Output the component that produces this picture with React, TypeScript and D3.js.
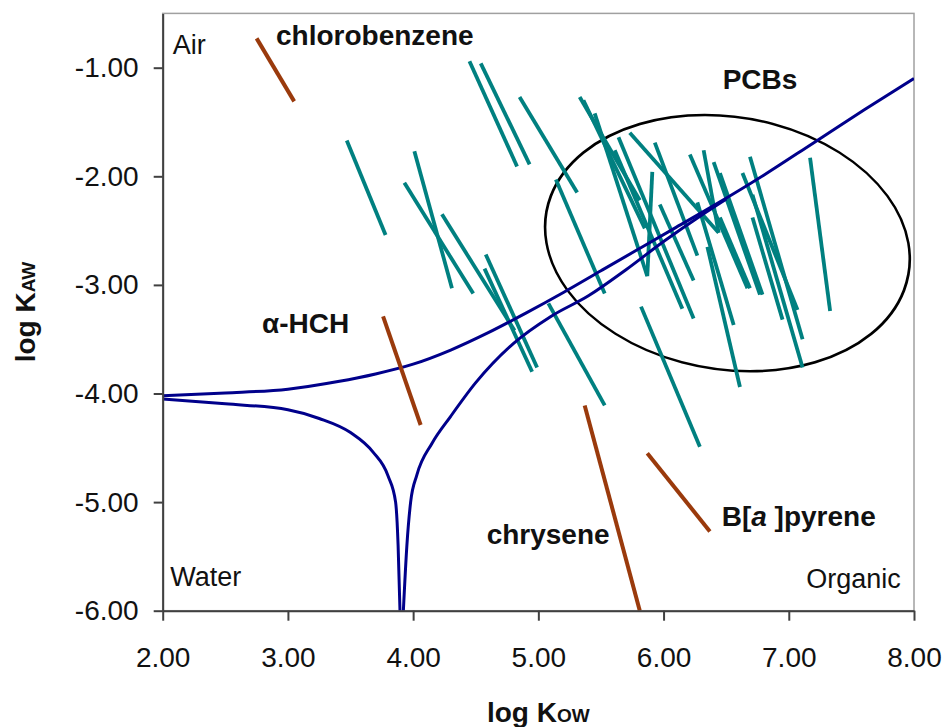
import React, { useEffect, useRef } from 'react';
import * as d3 from 'd3';

const kowTicks = [2, 3, 4, 5, 6, 7, 8];
const kawTicks = [-1, -2, -3, -4, -5, -6];

// boundary curve, upper branch
const upperKow = [2.0, 2.5, 3.0, 3.4, 3.7, 4.0, 4.3, 4.6, 4.9, 5.2, 5.5, 5.8, 6.1, 6.4, 6.8, 7.2, 7.6, 8.0];
const upperKaw = [-4.02, -3.995, -3.96, -3.89, -3.82, -3.73, -3.6, -3.44, -3.26, -3.07, -2.87, -2.67, -2.47, -2.27, -1.99, -1.69, -1.39, -1.1];

// boundary curve, lower branch (left and right of the cusp)
const lowerLeftKow = [2.0, 2.5, 3.0, 3.25, 3.5, 3.68, 3.8, 3.86, 3.88, 3.895];
const lowerLeftKaw = [-4.05, -4.095, -4.15, -4.23, -4.36, -4.54, -4.76, -5.0, -5.4, -6.0];
const lowerRightKow = [3.922, 3.95, 3.98, 4.03, 4.15, 4.3, 4.5, 4.8, 5.1, 5.4, 5.7, 6.0, 6.3, 6.5];
const lowerRightKaw = [-6.0, -5.4, -5.0, -4.75, -4.46, -4.21, -3.9, -3.54, -3.29, -3.1, -2.86, -2.6, -2.36, -2.21];

// PCB congeners: [logKow start, logKaw start, logKow end, logKaw end]
const pcbSegments: [number, number, number, number][] = [
  [3.47, -1.67, 3.78, -2.54],
  [4.01, -1.77, 4.31, -3.03],
  [3.93, -2.06, 4.48, -3.08],
  [4.23, -2.35, 4.81, -3.42],
  [4.58, -2.72, 4.99, -3.76],
  [4.57, -2.85, 4.95, -3.8],
  [5.08, -3.17, 5.53, -4.11],
  [4.45, -0.94, 4.83, -1.91],
  [4.54, -0.96, 4.93, -1.89],
  [4.85, -1.27, 5.31, -2.15],
  [5.14, -2.03, 5.53, -3.08],
  [5.82, -3.2, 6.29, -4.49],
  [5.36, -1.3, 5.85, -2.48],
  [5.45, -1.42, 5.87, -2.92],
  [5.61, -1.76, 6.15, -3.22],
  [5.64, -1.64, 6.24, -3.31],
  [5.73, -1.6, 6.44, -2.52],
  [5.93, -1.69, 6.27, -2.73],
  [5.91, -1.96, 5.87, -2.92],
  [6.21, -1.8, 6.67, -3.03],
  [6.32, -1.76, 6.44, -2.52],
  [6.4, -1.87, 6.77, -3.09],
  [6.69, -1.82, 7.11, -3.5],
  [6.63, -1.97, 7.07, -3.23],
  [6.71, -2.17, 7.11, -3.76],
  [6.71, -2.38, 6.95, -3.32],
  [7.17, -1.83, 7.33, -3.24],
  [6.27, -2.24, 6.56, -3.37],
  [6.35, -2.65, 6.61, -3.94],
  [6.45, -1.97, 6.79, -3.09],
  [6.45, -2.38, 6.69, -3.03],
  [5.97, -2.26, 6.24, -2.96],
  [5.33, -1.27, 5.81, -2.22],
];

// other compounds
const otherNames = ['chlorobenzene', 'α-HCH', 'chrysene', 'B[a]pyrene'];
const otherSegments: [number, number, number, number][] = [
  [2.75, -0.73, 3.05, -1.31],
  [3.76, -3.29, 4.06, -4.29],
  [5.37, -4.11, 5.81, -6.0],
  [5.87, -4.55, 6.37, -5.27],
];

const pcbEllipse = { kow: 6.51, kaw: -2.615, dKow: 1.445, dKaw: 1.18 };

const FONT = 'Liberation Sans, Arial, sans-serif';

export default function App() {
  const svgRef = useRef<SVGSVGElement>(null);

  useEffect(() => {
    if (!svgRef.current) return;
    const svg = d3.select(svgRef.current);
    svg.selectAll('*').remove();

    const width = 944;
    const height = 727;
    const margin = { top: 13.4, right: 30, bottom: 116.3, left: 162.7 };

    const x = d3.scaleLinear().domain([2, 8]).range([margin.left, width - margin.right]);
    const y = d3.scaleLinear().domain([-6, -0.5]).range([height - margin.bottom, margin.top]);

    svg.append('defs').append('clipPath').attr('id', 'plot-clip')
      .append('rect')
      .attr('x', x(2)).attr('y', y(-0.5))
      .attr('width', x(8) - x(2)).attr('height', y(-6) - y(-0.5));

    // frame
    svg.append('rect')
      .attr('x', x(2)).attr('y', y(-0.5))
      .attr('width', x(8) - x(2)).attr('height', y(-6) - y(-0.5))
      .attr('fill', 'none').attr('stroke', '#a0a0a0').attr('stroke-width', 1.5);

    const plot = svg.append('g').attr('clip-path', 'url(#plot-clip)');

    // ellipse round the PCBs
    const ex = x(pcbEllipse.kow);
    const ey = y(pcbEllipse.kaw);
    plot.append('ellipse')
      .attr('transform', `translate(${ex},${ey}) skewX(10)`)
      .attr('rx', x(pcbEllipse.kow + pcbEllipse.dKow) - ex)
      .attr('ry', y(pcbEllipse.kaw - pcbEllipse.dKaw) - ey)
      .attr('fill', 'none').attr('stroke', '#000').attr('stroke-width', 2.6);

    // PCB segments
    plot.selectAll('.pcb')
      .data(pcbSegments)
      .enter()
      .append('line')
      .attr('class', 'pcb')
      .attr('x1', d => x(d[0])).attr('y1', d => y(d[1]))
      .attr('x2', d => x(d[2])).attr('y2', d => y(d[3]))
      .attr('stroke', '#008080').attr('stroke-width', 3.8);

    // boundary curves
    const line = d3.line<[number, number]>()
      .x(d => x(d[0])).y(d => y(d[1]))
      .curve(d3.curveMonotoneX);
    const curves = [
      d3.zip(upperKow, upperKaw),
      d3.zip(lowerLeftKow, lowerLeftKaw),
      d3.zip(lowerRightKow, lowerRightKaw),
    ] as [number, number][][];
    plot.selectAll('.curve')
      .data(curves)
      .enter()
      .append('path')
      .attr('class', 'curve')
      .attr('d', d => line(d))
      .attr('fill', 'none').attr('stroke', '#00008b').attr('stroke-width', 3);

    // other compounds
    plot.selectAll('.other')
      .data(otherSegments)
      .enter()
      .append('line')
      .attr('class', 'other')
      .attr('x1', d => x(d[0])).attr('y1', d => y(d[1]))
      .attr('x2', d => x(d[2])).attr('y2', d => y(d[3]))
      .attr('stroke', '#9a3a0c').attr('stroke-width', 4);

    // axes
    const xAxis = d3.axisBottom(x)
      .tickValues(kowTicks)
      .tickFormat(d => (+d).toFixed(2))
      .tickSize(10).tickSizeOuter(0).tickPadding(26);
    const yAxis = d3.axisLeft(y)
      .tickValues(kawTicks)
      .tickFormat(d => (+d).toFixed(2))
      .tickSize(9).tickSizeOuter(0).tickPadding(15);

    const gx = svg.append('g')
      .attr('transform', `translate(0,${y(-6)})`)
      .call(xAxis);
    const gy = svg.append('g')
      .attr('transform', `translate(${x(2)},0)`)
      .call(yAxis);

    [gx, gy].forEach(g => {
      g.attr('font-family', FONT).attr('font-size', 28);
      g.select('.domain').attr('stroke', '#404040').attr('stroke-width', 2);
      g.selectAll('.tick line').attr('stroke', '#404040').attr('stroke-width', 2);
      g.selectAll('.tick text').attr('fill', '#111');
    });

    // axis titles
    const xt = svg.append('text')
      .attr('x', (x(2) + x(8)) / 2).attr('y', 722)
      .attr('text-anchor', 'middle')
      .attr('font-family', FONT).attr('font-weight', 'bold').attr('font-size', 28)
      .attr('fill', '#111');
    xt.append('tspan').text('log K');
    xt.append('tspan').attr('font-size', 19).text('OW');

    const yt = svg.append('text')
      .attr('transform', `translate(35,${(y(-0.5) + y(-6)) / 2}) rotate(-90)`)
      .attr('text-anchor', 'middle')
      .attr('font-family', FONT).attr('font-weight', 'bold').attr('font-size', 28)
      .attr('fill', '#111');
    yt.append('tspan').text('log K');
    yt.append('tspan').attr('font-size', 19).text('AW');

    // region labels
    const regionText = (t: string, kow: number, kaw: number, anchor: string) =>
      svg.append('text')
        .attr('x', x(kow)).attr('y', y(kaw))
        .attr('text-anchor', anchor)
        .attr('font-family', FONT).attr('font-size', 27)
        .attr('fill', '#111')
        .text(t);
    regionText('Air', 2.08, -0.877, 'start');
    regionText('Water', 2.06, -5.773, 'start');
    regionText('Organic', 7.894, -5.794, 'end');

    // compound labels
    const boldText = (kow: number, kaw: number) =>
      svg.append('text')
        .attr('x', x(kow)).attr('y', y(kaw))
        .attr('font-family', FONT).attr('font-weight', 'bold').attr('font-size', 28)
        .attr('fill', '#111');
    boldText(2.905, -0.79).text(otherNames[0]);
    boldText(6.472, -1.199).text('PCBs');
    boldText(2.793, -3.443).text(otherNames[1]);
    boldText(4.587, -5.386).text(otherNames[2]);
    const bap = boldText(6.464, -5.22);
    bap.append('tspan').text('B[');
    bap.append('tspan').attr('font-style', 'italic').text('a');
    bap.append('tspan').text(' ]pyrene');
  }, []);

  return (
    <svg
      ref={svgRef}
      width={944}
      height={727}
      style={{ position: 'absolute', left: 0, top: 0, background: '#fff' }}
    />
  );
}
